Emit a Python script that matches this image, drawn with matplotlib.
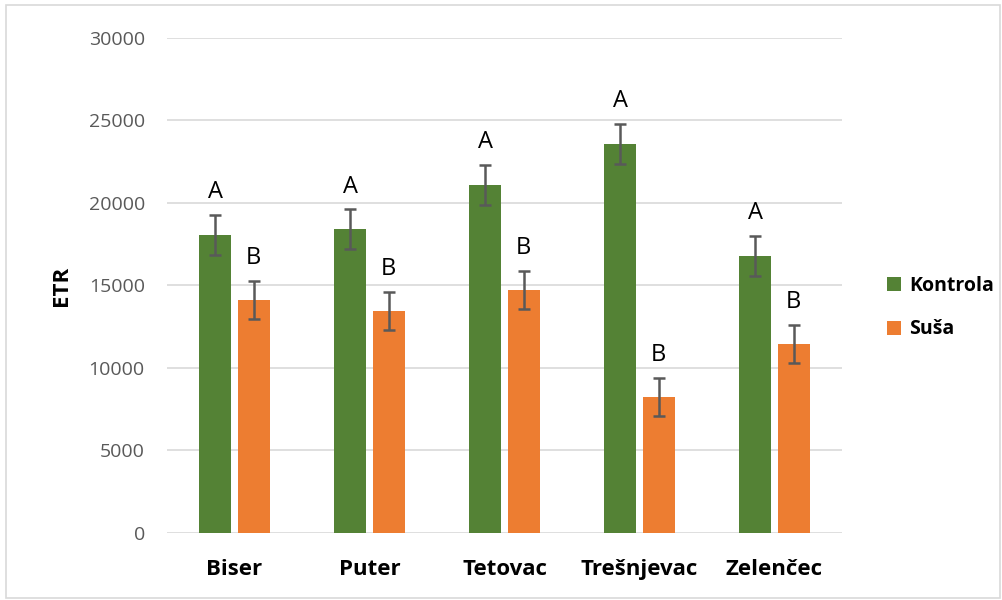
import matplotlib.pyplot as plt
from matplotlib.patches import Rectangle
import numpy as np

# data
categories = ['Biser', 'Puter', 'Tetovac', 'Trešnjevac', 'Zelenčec']
kontrola = [18060, 18420, 21090, 23580, 16790]
kontrola_err = [1220, 1200, 1220, 1220, 1200]
susa = [14120, 13450, 14730, 8240, 11450]
susa_err = [1150, 1150, 1150, 1180, 1150]
kontrola_letters = ['A', 'A', 'A', 'A', 'A']
susa_letters = ['B', 'B', 'B', 'B', 'B']

green = '#548235'
orange = '#ED7D31'
plt.rcParams['font.family'] = ['Open Sans', 'DejaVu Sans']

fig = plt.figure(figsize=(10.03, 6), dpi=100)
ax = fig.add_axes([0.1665, 0.1117, 0.673, 0.825])

# outer chart border
fig.patches.append(Rectangle((0.006, 0.004), 0.991, 0.987, transform=fig.transFigure,
                             fill=False, ec='#d9d9d9', lw=1.2))

x = np.arange(len(categories))
w = 0.237
off = 0.141
err_kw = dict(ecolor='#595959', elinewidth=1.8, capsize=4.5, capthick=1.8)
ax.bar(x - off, kontrola, w, color=green, yerr=kontrola_err, error_kw=err_kw,
       label='Kontrola', zorder=2)
ax.bar(x + off, susa, w, color=orange, yerr=susa_err, error_kw=err_kw,
       label='Suša', zorder=2)

for i in range(len(categories)):
    ax.annotate(kontrola_letters[i], (x[i] - off, kontrola[i] + kontrola_err[i]),
                xytext=(0, 12), textcoords='offset points', ha='center', va='baseline',
                fontsize=17, color='black')
    ax.annotate(susa_letters[i], (x[i] + off, susa[i] + susa_err[i]),
                xytext=(0, 12), textcoords='offset points', ha='center', va='baseline',
                fontsize=17, color='black')

ax.set_xlim(-0.5, len(categories) - 0.5)
ax.set_ylim(0, 30000)
ax.set_yticks(range(0, 30001, 5000))
ax.yaxis.grid(True, color='#d9d9d9', lw=1.2, zorder=0)
ax.set_axisbelow(True)
for s in ax.spines.values():
    s.set_visible(False)
ax.tick_params(axis='y', length=0, pad=16, labelsize=14, labelcolor='#595959')
ax.tick_params(axis='x', length=0, pad=19)
ax.set_xticks(x)
ax.set_xticklabels(categories, fontsize=16, fontweight='bold')
ax.set_ylabel('ETR', fontsize=16, fontweight='bold', labelpad=12)

ax.legend(loc='center left', bbox_to_anchor=(1.04, 0.455), frameon=False,
          prop={'size': 14, 'weight': 'bold'}, handlelength=0.75, handleheight=0.75,
          handletextpad=0.4, labelspacing=1.2)

fig.savefig('out.png', dpi=100)
